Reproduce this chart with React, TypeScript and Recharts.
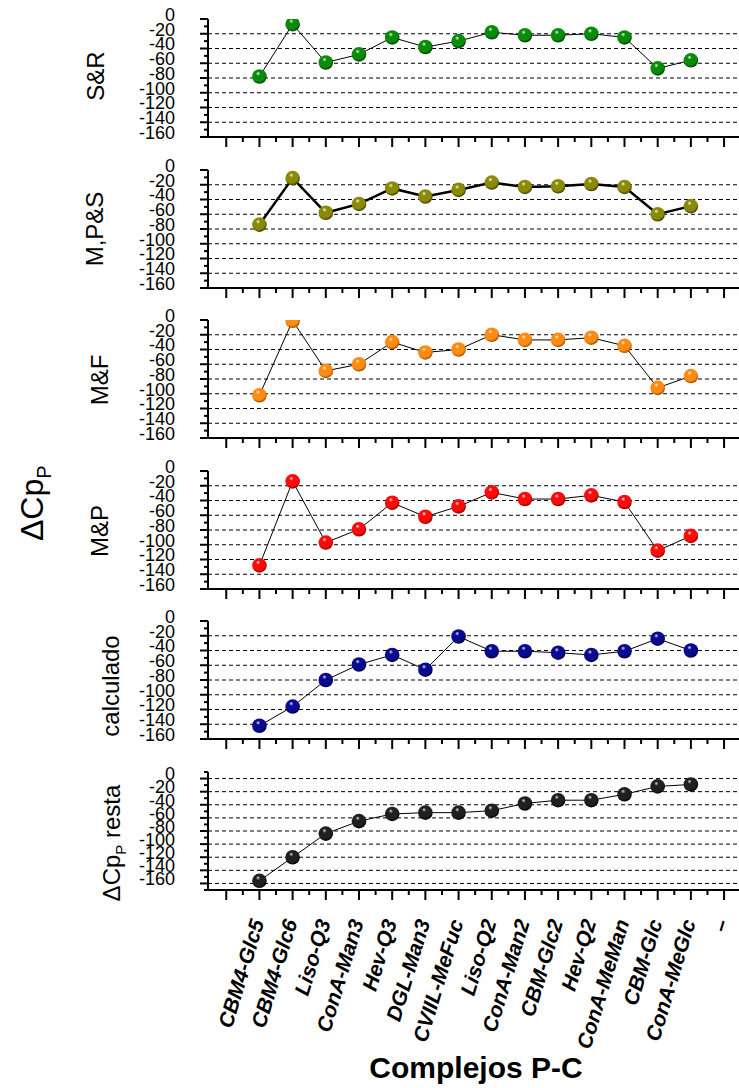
import React from 'react';
import { LineChart, Line, XAxis, YAxis, CartesianGrid } from 'recharts';

// protein–carbohydrate complexes along the x axis (last slot is an empty "–" position)
const COMPLEXES = [
  'CBM4-Glc5', 'CBM4-Glc6', 'Liso-Q3', 'ConA-Man3', 'Hev-Q3', 'DGL-Man3', 'CVIIL-MeFuc',
  'Liso-Q2', 'ConA-Man2', 'CBM-Glc2', 'Hev-Q2', 'ConA-MeMan', 'CBM-Glc', 'ConA-MeGlc', '–',
];

// ΔCp_P per model
const SR = [-78, -7, -59, -48, -25, -38, -30, -18, -22, -22, -20, -25, -67, -56];
const MPS = [-74, -11, -58, -46, -25, -36, -27, -17, -23, -22, -19, -23, -60, -49];
const MF = [-102, -1, -69, -60, -30, -44, -40, -20, -27, -27, -24, -35, -92, -76];
const MP = [-128, -14, -97, -79, -43, -62, -48, -29, -38, -38, -33, -42, -108, -88];
const CALC = [-142, -116, -80, -59, -46, -66, -21, -41, -41, -43, -46, -41, -24, -40];
const RESTA = [-156, -120, -84, -65, -54, -52, -52, -49, -38, -33, -33, -24, -12, -9];

const Y_LABELS = [0, -20, -40, -60, -80, -100, -120, -140, -160];
const GRID_STD = [-20, -40, -60, -80, -100, -120, -140];
const GRID_RESTA = [0, -20, -40, -60, -80, -100, -120, -140, -160];

const steps = (from: number, to: number, step: number) => {
  const out: number[] = [];
  for (let v = from; v <= to + 1e-9; v += step) out.push(Math.round(v * 100) / 100);
  return out;
};

const X_TICKS = steps(-1, 14, 0.5);

const FONT = '"Liberation Sans", Arial, sans-serif';

const SPHERES: Record<string, [string, string, string]> = {
  green: ['#e8ffe8', '#0a8c0a', '#003a00'],
  olive: ['#fbfbd8', '#8a8a08', '#3a3a00'],
  orange: ['#fff2dc', '#ff8c10', '#a04a00'],
  red: ['#ffe8e8', '#ff0a0a', '#880000'],
  navy: ['#e0e0ff', '#0a0a90', '#00003a'],
  black: ['#d8d8d8', '#202020', '#000000'],
};

const PANELS = [
  { id: 'sr', title: 'S&R', values: SR, ball: 'green', lw: 1, top: 19, tx: 104, ty: 76 },
  { id: 'mps', title: 'M,P&S', values: MPS, ball: 'olive', lw: 2.5, top: 169.5, tx: 103, ty: 229 },
  { id: 'mf', title: 'M&F', values: MF, ball: 'orange', lw: 1, top: 320, tx: 108, ty: 380 },
  { id: 'mp', title: 'M&P', values: MP, ball: 'red', lw: 1, top: 470.5, tx: 108, ty: 531 },
  { id: 'calc', title: 'calculado', values: CALC, ball: 'navy', lw: 1, top: 621, tx: 119, ty: 686 },
];

const PLOT_H = 118;
const MARGIN_TOP = 18;

function YTick(props: any) {
  const { x, y, payload } = props;
  const v = payload.value;
  const major = v % 20 === 0;
  return (
    <g>
      <line x1={x - (major ? 8 : 4)} x2={x} y1={y} y2={y} stroke="#000" strokeWidth={2} />
      {major && Y_LABELS.includes(v) && (
        <text x={x - 33} y={y - 4.5} dy="0.35em" textAnchor="end" fontSize={18} fontFamily={FONT} fill="#000">
          {v}
        </text>
      )}
    </g>
  );
}

function XTick(props: any) {
  const { x, y, payload, showLabel } = props;
  const v = payload.value;
  const major = Number.isInteger(v);
  const label = showLabel && major && v >= 0 ? COMPLEXES[v] : null;
  return (
    <g>
      <line x1={x} x2={x} y1={y} y2={y + (major ? 10 : 5)} stroke="#000" strokeWidth={2} />
      {label && (
        <text
          transform={`translate(${x + 5},${y + 32}) rotate(-73)`}
          textAnchor="end"
          fontSize={21}
          fontWeight="bold"
          fontStyle="italic"
          fontFamily={FONT}
          fill="#000"
        >
          {label}
        </text>
      )}
    </g>
  );
}

function Sphere(props: any) {
  const { cx, cy, ball, index } = props;
  if (cx == null || cy == null) return <g key={index} />;
  return <circle key={index} cx={cx} cy={cy} r={7.3} fill={`url(#ball-${ball})`} />;
}

function Panel(props: {
  values: number[];
  ball: string;
  lw: number;
  top: number;
  domain: [number, number];
  grid: number[];
  yTicks: number[];
  last?: boolean;
}) {
  const { values, ball, lw, top, domain, grid, yTicks, last } = props;
  const rows = values.map((v, i) => ({ idx: i, v }));
  const xH = last ? 190 : 20;
  return (
    <div style={{ position: 'absolute', left: 0, top: top - MARGIN_TOP }}>
      <LineChart
        width={739}
        height={MARGIN_TOP + PLOT_H + xH}
        data={rows}
        margin={{ top: MARGIN_TOP, right: 0, bottom: 0, left: 148 }}
      >
        <CartesianGrid vertical={false} horizontalValues={grid} stroke="#000" strokeDasharray="4 3" />
        <XAxis
          type="number"
          dataKey="idx"
          domain={[-1.55, 14.45]}
          ticks={X_TICKS}
          interval={0}
          height={xH}
          tickSize={0}
          tickMargin={0}
          tickLine={false}
          axisLine={{ stroke: '#000', strokeWidth: 2 }}
          tick={(p: any) => <XTick {...p} showLabel={!!last} />}
        />
        <YAxis
          type="number"
          domain={domain}
          ticks={yTicks}
          interval={0}
          allowDataOverflow
          width={60}
          tickSize={0}
          tickMargin={0}
          tickLine={false}
          axisLine={{ stroke: '#000', strokeWidth: 2 }}
          tick={(p: any) => <YTick {...p} />}
        />
        <Line
          type="linear"
          dataKey="v"
          stroke="#000"
          strokeWidth={lw}
          dot={(p: any) => <Sphere key={p.index} {...p} ball={ball} />}
          activeDot={false}
          isAnimationActive={false}
        />
      </LineChart>
    </div>
  );
}

export default function App() {
  const stdTicks = steps(-160, 0, 10);
  const restaTicks = steps(-170, 10, 10);
  return (
    <div style={{ position: 'absolute', left: 0, top: 0, width: 739, height: 1088, background: '#fff', fontFamily: FONT }}>
      <svg width={0} height={0} style={{ position: 'absolute' }}>
        <defs>
          {Object.entries(SPHERES).map(([name, [hi, base, dark]]) => (
            <radialGradient key={name} id={`ball-${name}`} cx="45%" cy="40%" r="60%" fx="40%" fy="28%">
              <stop offset="0%" stopColor={hi} />
              <stop offset="25%" stopColor={base} />
              <stop offset="75%" stopColor={base} />
              <stop offset="100%" stopColor={dark} />
            </radialGradient>
          ))}
        </defs>
      </svg>

      {PANELS.map((p) => (
        <Panel
          key={p.id}
          values={p.values}
          ball={p.ball}
          lw={p.lw}
          top={p.top}
          domain={[-160, 0]}
          grid={GRID_STD}
          yTicks={stdTicks}
        />
      ))}
      <Panel
        values={RESTA}
        ball="black"
        lw={1}
        top={771.7}
        domain={[-170, 10]}
        grid={GRID_RESTA}
        yTicks={restaTicks}
        last
      />

      <svg width={739} height={1088} style={{ position: 'absolute', left: 0, top: 0, pointerEvents: 'none' }}>
        {PANELS.map((p) => (
          <text
            key={p.id}
            transform={`translate(${p.tx},${p.ty}) rotate(-90)`}
            textAnchor="middle"
            fontSize={24}
            fontFamily={FONT}
            fill="#000"
          >
            {p.title}
          </text>
        ))}
        <text transform="translate(120,843) rotate(-90)" textAnchor="middle" fontSize={24} fontFamily={FONT} fill="#000">
          ΔCp<tspan fontSize={15} dy={6}>P</tspan>
          <tspan dy={-6}> resta</tspan>
        </text>
        <text transform="translate(43,541) rotate(-90)" textAnchor="start" fontSize={32} fontFamily={FONT} fill="#000">
          ΔCp<tspan fontSize={20} dy={8}>P</tspan>
        </text>
        <text x={476} y={1078} textAnchor="middle" fontSize={30} fontWeight="bold" fontFamily={FONT} fill="#000">
          Complejos P-C
        </text>
      </svg>
    </div>
  );
}
